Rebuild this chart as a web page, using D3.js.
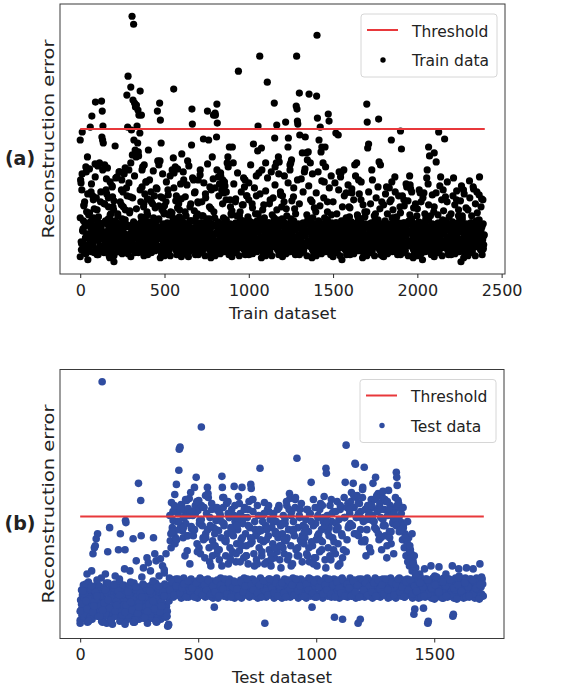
<!DOCTYPE html>
<html>
<head>
<meta charset="utf-8">
<script src="https://cdn.jsdelivr.net/npm/d3@7"></script>
<style>
  body { margin: 0; background: #fff; }
  svg text { font-family: "DejaVu Sans", sans-serif; fill: #222; }
</style>
</head>
<body>
<div id="main"></div>
<script>
// ---- values ----
// the y axis carries no tick labels, so errors are in relative units
// each inner array holds the points of one block of consecutive samples
const TRAIN_BLOCK = 100;
const TEST_BLOCK = 95;
const trainTicks = [0, 500, 1000, 1500, 2000, 2500];
const testTicks = [0, 500, 1000, 1500];
const trainThreshold = 133;
const testThreshold = 109;

const trainErr = [
  [122, 82, 79, 12, 72, 130, 31, 19, 41, 56, 15, 60, 36, 24, 8, 90, 50, 28, 105, 2, 17, 47, 38, 93, 22, 135, 34, 70, 10, 146, 27, 66, 18, 44, 36, 53, 25, 98, 160, 13, 64, 31],
  [12, 33, 96, 7, 45, 22, 39, 99, 16, 28, 60, 14, 35, 161, 125, 151, 122, 136, 119, 23, 9, 58, 97, 30, 19, 40, 72, 11, 68, 26, 94, 37, 16, 55, 31, 6, 21, 43, 80, 29, 48, 20, 41, 14, 75, 65, 34, 25, 52],
  [0, 29, 20, 116, 41, 15, 36, 25, 85, 10, 46, 27, 18, 90, 38, 13, 60, 32, 23, 57, 82, 8, 31, 70, 21, 39, 88, 16, 35, 52, 26, 12, 74, 167, 37, 135, 186, 22, 92, 17, 49, 28, 65],
  [175, 12, 132, 32, 246, 107, 22, 162, 38, 238, 122, 17, 159, 27, 112, 155, 14, 105, 157, 34, 136, 24, 119, 152, 9, 106, 147, 29, 19, 129, 171, 39, 60, 11, 147, 26, 75, 36, 95, 16, 31, 55, 6, 97, 21, 68, 30, 45, 20, 40, 80, 15, 50, 63],
  [11, 31, 112, 19, 40, 15, 62, 36, 24, 70, 9, 28, 18, 58, 39, 13, 44, 33, 66, 23, 11, 30, 21, 74, 41, 16, 151, 101, 35, 26, 56, 12, 159, 101, 142, 32, 119, 7, 52, 22, 64, 38, 17, 27, 48],
  [14, 34, 24, 9, 60, 29, 19, 39, 11, 72, 26, 47, 36, 16, 31, 6, 50, 21, 30, 20, 92, 40, 15, 104, 173, 89, 35, 25, 95, 12, 32, 66, 7, 22, 54, 38, 17, 58, 27, 45, 14, 34, 78, 43],
  [11, 108, 29, 21, 40, 14, 82, 36, 25, 8, 65, 28, 46, 18, 38, 13, 101, 33, 5, 23, 10, 31, 55, 19, 41, 15, 117, 153, 138, 34, 26, 82, 12, 51, 32, 70, 7, 22, 39, 17, 27, 48, 60],
  [82, 14, 34, 24, 9, 92, 29, 19, 39, 60, 11, 26, 46, 123, 36, 16, 31, 6, 68, 21, 30, 20, 40, 151, 15, 35, 122, 25, 12, 75, 32, 7, 53, 22, 38, 105, 17, 27, 147, 50, 14, 44],
  [149, 147, 11, 29, 125, 158, 139, 21, 40, 85, 14, 36, 78, 25, 8, 89, 28, 18, 72, 38, 13, 82, 33, 23, 69, 10, 31, 76, 20, 41, 62, 15, 35, 99, 24, 105, 12, 32, 7, 115, 22, 38, 55, 17, 27, 47],
  [14, 115, 34, 99, 24, 9, 29, 19, 60, 39, 11, 46, 26, 36, 16, 191, 31, 6, 21, 50, 30, 20, 40, 15, 57, 35, 25, 84, 12, 75, 32, 7, 22, 38, 66, 17, 27, 45, 42],
  [79, 11, 31, 19, 40, 16, 35, 24, 58, 8, 28, 118, 18, 39, 13, 33, 48, 23, 66, 10, 30, 111, 136, 21, 89, 41, 206, 15, 36, 25, 114, 12, 32, 52, 7, 22, 38, 44, 17, 27],
  [99, 14, 34, 24, 180, 9, 29, 19, 39, 11, 26, 62, 36, 16, 31, 6, 47, 21, 30, 20, 40, 159, 124, 95, 15, 35, 99, 137, 25, 12, 32, 105, 7, 100, 22, 38, 70, 17, 27, 55, 43],
  [11, 29, 21, 40, 60, 15, 35, 25, 140, 8, 28, 46, 18, 38, 115, 124, 13, 33, 23, 97, 10, 99, 31, 102, 20, 41, 15, 35, 65, 24, 12, 53, 32, 7, 22, 156, 206, 153, 141, 138, 38, 17, 27],
  [169, 127, 14, 34, 24, 9, 29, 109, 19, 39, 11, 26, 90, 36, 125, 16, 109, 31, 6, 102, 21, 110, 30, 168, 20, 40, 99, 15, 35, 25, 60, 12, 44, 32, 7, 22, 38, 17, 27, 50],
  [11, 166, 227, 144, 30, 19, 41, 122, 15, 36, 135, 24, 110, 8, 115, 28, 18, 99, 38, 13, 80, 33, 115, 23, 10, 31, 21, 40, 60, 14, 148, 35, 141, 26, 12, 32, 7, 22, 47, 39, 17, 27],
  [14, 34, 24, 9, 29, 19, 129, 39, 11, 26, 36, 127, 16, 90, 31, 6, 21, 89, 30, 2, 20, 40, 15, 92, 35, 25, 12, 32, 69, 7, 22, 38, 17, 27, 55, 45],
  [10, 31, 20, 40, 69, 16, 35, 24, 8, 28, 97, 18, 38, 13, 99, 33, 46, 23, 82, 11, 29, 21, 41, 62, 15, 36, 25, 12, 32, 7, 22, 50, 38, 17, 27],
  [158, 140, 114, 14, 118, 34, 24, 9, 29, 19, 39, 92, 11, 26, 36, 16, 31, 6, 21, 48, 30, 20, 40, 15, 35, 25, 143, 100, 12, 32, 97, 7, 22, 38, 6, 17, 27],
  [11, 30, 19, 41, 15, 35, 75, 26, 8, 28, 18, 38, 13, 60, 33, 23, 122, 80, 10, 31, 21, 40, 44, 14, 70, 36, 25, 12, 32, 7, 22, 39, 17, 27, 55],
  [131, 14, 113, 34, 24, 9, 29, 62, 19, 39, 11, 26, 36, 75, 16, 31, 6, 21, 30, 86, 77, 73, 20, 40, 15, 35, 25, 12, 32, 7, 22, 38, 17, 27, 46],
  [11, 29, 21, 40, 15, 36, 69, 24, 8, 28, 18, 2, 39, 13, 69, 33, 23, 10, 31, 20, 41, 92, 14, 78, 115, 35, 106, 26, 12, 32, 7, 22, 38, 17, 27, 50],
  [109, 14, 34, 24, 100, 9, 29, 19, 39, 130, 11, 26, 36, 85, 16, 31, 6, 21, 72, 30, 20, 123, 40, 15, 35, 25, 60, 12, 32, 7, 22, 38, 17, 27],
  [11, 30, 19, 40, 16, 84, 35, 24, 8, 28, 18, 62, 38, 13, 33, 46, 23, 10, 31, 21, 0, 76, 41, 15, 36, 72, 25, 12, 32, 7, 22, 38, 17, 27],
  [14, 34, 24, 81, 9, 29, 19, 39, 11, 26, 75, 36, 16, 31, 6, 21, 30, 70, 20, 40, 15, 35, 85, 25, 12, 32, 63, 7, 22, 38, 17, 27]
];

// second pass over the same blocks: the cloud just above the band
const trainErrMore = [
  [44, 20, 88, 33, 57, 11, 95, 26, 68, 39, 49, 16, 78, 30, 62, 9, 85, 42],
  [52, 24, 98, 36, 70, 13, 92, 29, 58, 41, 83, 19, 64, 33, 47, 10, 76, 55],
  [61, 22, 84, 37, 48, 14, 90, 31, 72, 43, 55, 18, 94, 27, 66, 8, 79, 51],
  [99, 28, 64, 40, 86, 15, 53, 34, 110, 20, 72, 45, 92, 12, 58, 37, 80, 25],
  [47, 19, 82, 35, 60, 12, 91, 28, 54, 42, 73, 16, 97, 31, 65, 9, 88, 50],
  [56, 23, 80, 38, 67, 14, 86, 30, 49, 44, 74, 17, 61, 33, 93, 10, 52, 27],
  [63, 21, 90, 36, 50, 13, 77, 29, 96, 41, 58, 18, 84, 32, 69, 11, 45, 25],
  [59, 24, 87, 39, 46, 15, 79, 31, 64, 43, 98, 17, 55, 34, 72, 8, 83, 27],
  [74, 20, 92, 37, 66, 12, 86, 30, 58, 44, 80, 16, 70, 33, 95, 10, 62, 48],
  [51, 22, 78, 38, 63, 14, 89, 28, 46, 42, 70, 18, 57, 32, 82, 9, 66, 26],
  [62, 23, 97, 36, 54, 13, 74, 30, 86, 41, 48, 17, 68, 34, 92, 11, 57, 27],
  [71, 21, 84, 39, 58, 15, 90, 29, 64, 44, 77, 18, 52, 33, 88, 10, 67, 25],
  [66, 24, 86, 37, 53, 12, 79, 31, 92, 43, 61, 16, 74, 34, 48, 9, 82, 26],
  [58, 20, 83, 38, 70, 14, 93, 29, 47, 42, 76, 17, 62, 32, 88, 11, 54, 27],
  [69, 22, 90, 36, 56, 13, 81, 30, 64, 44, 95, 18, 50, 33, 74, 10, 86, 25],
  [60, 23, 79, 39, 48, 15, 72, 28, 85, 41, 55, 16, 66, 34, 44, 9, 77, 26],
  [54, 21, 73, 37, 62, 12, 86, 31, 47, 43, 68, 17, 80, 32, 57, 10, 45, 27],
  [50, 24, 70, 38, 58, 14, 82, 29, 46, 42, 64, 18, 75, 33, 53, 11, 60, 26],
  [57, 20, 68, 36, 48, 13, 74, 30, 62, 44, 52, 16, 85, 34, 45, 9, 66, 25],
  [49, 22, 66, 39, 56, 15, 78, 28, 61, 41, 47, 17, 70, 32, 54, 10, 58, 27],
  [53, 23, 72, 37, 60, 12, 64, 31, 48, 43, 84, 16, 57, 33, 46, 11, 67, 26],
  [55, 21, 69, 38, 47, 14, 76, 29, 62, 42, 51, 18, 65, 34, 80, 9, 45, 25],
  [48, 24, 66, 36, 57, 13, 71, 30, 52, 44, 61, 17, 46, 32, 68, 10, 54, 27],
  [52, 20, 64, 39, 46, 15, 73, 28, 58, 41, 49, 16, 67, 33, 55, 11, 62, 26]
];

// third pass: fills the solid black band
const trainErrBand = [
  [5, 18, 31, 9, 24, 37, 14, 28, 41, 20, 33, 12],
  [7, 21, 34, 11, 26, 39, 16, 30, 43, 4, 23, 36],
  [6, 19, 32, 10, 25, 38, 15, 29, 42, 22, 35, 13],
  [5, 18, 31, 9, 24, 37, 14, 28, 41, 20, 33, 12],
  [7, 21, 34, 11, 26, 39, 16, 30, 43, 4, 23, 36],
  [6, 19, 32, 10, 25, 38, 15, 29, 42, 22, 35, 13],
  [5, 18, 31, 9, 24, 37, 14, 28, 41, 20, 33, 12],
  [7, 21, 34, 11, 26, 39, 16, 30, 43, 4, 23, 36],
  [6, 19, 32, 10, 25, 38, 15, 29, 42, 22, 35, 13],
  [5, 18, 31, 9, 24, 37, 14, 28, 41, 20, 33, 12],
  [7, 21, 34, 11, 26, 39, 16, 30, 43, 4, 23, 36],
  [6, 19, 32, 10, 25, 38, 15, 29, 42, 22, 35, 13],
  [5, 18, 31, 9, 24, 37, 14, 28, 41, 20, 33, 12],
  [7, 21, 34, 11, 26, 39, 16, 30, 43, 4, 23, 36],
  [6, 19, 32, 10, 25, 38, 15, 29, 42, 22, 35, 13],
  [5, 18, 31, 9, 24, 37, 14, 28, 41, 20, 33, 12],
  [7, 21, 34, 11, 26, 39, 16, 30, 43, 4, 23, 36],
  [6, 19, 32, 10, 25, 38, 15, 29, 42, 22, 35, 13],
  [5, 18, 31, 9, 24, 37, 14, 28, 41, 20, 33, 12],
  [7, 21, 34, 11, 26, 39, 16, 30, 43, 4, 23, 36],
  [6, 19, 32, 10, 25, 38, 15, 29, 42, 22, 35, 13],
  [5, 18, 31, 9, 24, 37, 14, 28, 41, 20, 33, 12],
  [7, 21, 34, 11, 26, 39, 16, 30, 43, 4, 23, 36],
  [6, 19, 32, 10, 25, 38, 15, 29, 42, 22, 35, 13]
];

const testErr = [
  [6, 26, 16, 36, 11, 31, 21, 41, 8, 28, 18, 38, 13, 33, 23, 52, 4, 24, 44, 14, 34, 9, 29, 19, 39, 55, 7, 27, 72, 17, 37, 78, 12, 80, 32, 87, 22, 42, 92, 10, 30, 20, 40, 15, 35, 25, 48, 5, 243],
  [8, 28, 18, 38, 13, 33, 52, 23, 43, 3, 24, 74, 14, 34, 9, 98, 29, 19, 39, 7, 27, 17, 37, 12, 32, 22, 42, 50, 10, 30, 20, 40, 15, 35, 76, 25, 45, 5, 92, 26, 16, 36, 11, 31, 21, 41, 6, 57],
  [76, 105, 103, 6, 26, 16, 36, 11, 31, 21, 41, 55, 8, 28, 18, 38, 13, 33, 87, 23, 43, 4, 24, 14, 34, 65, 9, 29, 19, 39, 142, 7, 27, 17, 37, 125, 90, 12, 32, 22, 42, 58, 10, 30, 20, 40, 15, 35, 25, 68],
  [6, 26, 63, 16, 36, 11, 31, 55, 21, 41, 8, 28, 18, 38, 88, 13, 33, 72, 23, 43, 65, 4, 24, 14, 34, 9, 29, 50, 19, 39, 67, 7, 27, 17, 37, 60, 12, 32, 22, 56, 42, 10, 30, 72, 20, 40, 15, 0, 35, 2, 25, 48],
  [30, 85, 41, 78, 123, 34, 98, 46, 105, 29, 93, 38, 131, 33, 88, 47, 141, 43, 118, 31, 112, 40, 155, 176, 36, 178, 45, 100, 28, 120, 39, 95, 32, 108, 48, 115, 42, 70, 30, 102, 41, 125, 35, 90, 44, 117, 29, 110, 38, 62, 33, 133, 47, 97, 43],
  [33, 110, 44, 95, 30, 138, 40, 120, 36, 148, 45, 82, 28, 115, 38, 125, 32, 105, 48, 72, 42, 198, 31, 100, 41, 88, 35, 118, 46, 68, 29, 92, 39, 112, 34, 138, 47, 128, 43, 78, 30, 108, 40, 60, 36, 122, 45, 85, 28, 98, 38, 19],
  [31, 80, 40, 105, 35, 72, 46, 115, 28, 95, 39, 66, 33, 110, 48, 88, 42, 149, 138, 128, 118, 30, 100, 41, 85, 36, 70, 44, 122, 29, 92, 38, 62, 32, 108, 47, 78, 43, 98, 30, 116, 40, 74, 34, 90, 45, 139, 28, 104, 37, 64, 33, 82],
  [43, 96, 30, 129, 41, 75, 35, 112, 46, 86, 28, 138, 38, 102, 33, 68, 48, 118, 42, 92, 31, 80, 40, 108, 36, 62, 45, 124, 29, 98, 39, 141, 137, 34, 84, 47, 114, 43, 72, 30, 104, 41, 90, 35, 66, 44, 120, 28, 94, 38, 78],
  [33, 157, 48, 95, 42, 70, 30, 110, 40, 84, 36, 123, 3, 45, 100, 29, 64, 38, 116, 32, 90, 47, 76, 43, 106, 31, 60, 41, 98, 35, 82, 46, 112, 28, 68, 39, 94, 34, 104, 48, 74, 42, 88, 30, 118, 40, 66, 36, 100, 44, 80],
  [28, 92, 38, 110, 33, 72, 47, 102, 43, 85, 30, 120, 41, 66, 35, 96, 45, 132, 127, 29, 80, 39, 114, 32, 62, 48, 104, 42, 90, 31, 118, 40, 76, 36, 167, 44, 98, 28, 70, 38, 108, 34, 86, 47, 122, 43, 64, 30, 100, 41, 82],
  [35, 88, 45, 106, 28, 72, 38, 116, 33, 94, 48, 64, 42, 112, 30, 143, 40, 19, 80, 36, 100, 46, 68, 29, 118, 39, 86, 32, 60, 47, 108, 43, 92, 31, 74, 41, 122, 35, 96, 44, 84, 28, 104, 38, 129, 34, 66, 48, 157, 152],
  [43, 110, 30, 78, 40, 98, 36, 120, 45, 66, 29, 104, 38, 88, 33, 114, 47, 9, 42, 72, 31, 96, 41, 124, 35, 82, 46, 106, 28, 62, 39, 118, 32, 92, 48, 7, 43, 76, 30, 108, 40, 143, 36, 180, 44, 86, 29, 122, 38, 100],
  [33, 112, 48, 124, 42, 133, 30, 100, 41, 142, 35, 118, 46, 162, 161, 28, 108, 39, 130, 32, 3, 90, 47, 122, 43, 7, 114, 31, 84, 40, 128, 36, 104, 45, 158, 29, 116, 38, 70, 34, 96, 48, 120, 42, 110, 30, 78, 41, 106, 35, 126],
  [45, 118, 28, 142, 38, 104, 33, 126, 48, 148, 43, 96, 30, 114, 40, 132, 35, 86, 46, 122, 29, 108, 39, 76, 32, 128, 47, 100, 42, 116, 31, 90, 41, 124, 36, 68, 44, 110, 28, 135, 38, 94, 34, 120, 48, 82, 43, 112, 30, 102, 40, 72],
  [35, 116, 45, 128, 28, 153, 148, 140, 38, 125, 33, 108, 48, 118, 43, 96, 30, 103, 40, 86, 36, 98, 46, 78, 29, 92, 39, 70, 32, 84, 47, 64, 42, 88, 31, 60, 41, 76, 35, 72, 44, 55, 28, 65, 38, 12, 33, 17, 48, 58, 43],
  [30, 41, 35, 46, 28, 38, 52, 33, 48, 43, 31, 40, 36, 18, 45, 57, 29, 39, 32, 47, 42, 3, 5, 30, 41, 34, 44, 60, 28, 38, 33, 48, 43, 31, 50, 40, 36, 45, 29, 39, 32, 47],
  [59, 43, 30, 40, 35, 46, 28, 38, 33, 48, 42, 31, 41, 52, 36, 45, 29, 39, 32, 47, 43, 30, 40, 34, 44, 60, 10, 12, 28, 38, 33, 48, 42, 31, 41, 35, 46, 57, 29, 39, 32, 47],
  [30, 41, 35, 45, 28, 38, 33, 48, 43, 58, 31, 40, 36, 46, 29, 39, 32, 47, 42, 30, 41, 57, 34, 44, 28, 38, 33, 48, 43, 31, 40, 36, 45, 62, 29, 39, 32, 47, 42, 30]
];

// second pass over the same test blocks
const testErrMore = [
  [3, 22, 12, 32, 42, 17, 27, 7, 37, 14, 24, 34, 46, 10, 30, 20],
  [4, 23, 13, 33, 43, 18, 28, 2, 38, 15, 25, 35, 47, 9, 31, 21],
  [2, 21, 11, 31, 44, 16, 26, 6, 36, 13, 23, 33, 49, 8, 29, 19],
  [3, 22, 12, 32, 45, 17, 27, 5, 37, 14, 24, 34, 53, 9, 30, 1],
  [36, 92, 44, 114, 31, 82, 40, 104, 47, 96, 33, 121, 38, 88, 42, 109, 29, 75, 45, 127, 35, 99],
  [38, 90, 29, 112, 43, 74, 34, 102, 47, 120, 31, 86, 41, 130, 36, 96, 45, 64, 32, 116, 40, 80],
  [34, 96, 45, 76, 30, 112, 41, 60, 37, 102, 47, 86, 32, 124, 43, 68, 29, 94, 39, 110, 44, 72],
  [37, 106, 30, 64, 44, 88, 34, 116, 40, 70, 47, 100, 31, 82, 42, 126, 36, 60, 45, 92, 33, 110],
  [41, 86, 29, 104, 45, 62, 35, 96, 31, 114, 47, 72, 38, 108, 33, 78, 43, 92, 30, 120, 40, 58],
  [43, 78, 33, 106, 29, 88, 46, 116, 37, 60, 41, 96, 31, 126, 47, 70, 35, 110, 40, 84, 30, 100],
  [30, 98, 42, 70, 36, 112, 47, 84, 33, 62, 44, 102, 29, 90, 39, 116, 45, 76, 32, 108, 41, 58],
  [36, 94, 47, 70, 32, 112, 41, 84, 29, 102, 44, 60, 38, 116, 33, 90, 46, 128, 30, 74, 42, 98],
  [38, 102, 30, 118, 45, 92, 34, 128, 41, 112, 29, 96, 47, 136, 36, 84, 43, 106, 31, 120, 40, 74],
  [34, 110, 43, 98, 30, 130, 46, 118, 37, 88, 41, 106, 32, 126, 47, 80, 36, 116, 29, 94, 44, 104],
  [31, 106, 42, 120, 47, 94, 34, 112, 39, 100, 29, 90, 44, 82, 36, 74, 46, 68, 32, 62, 40, 52],
  [34, 44, 29, 39, 47, 32, 42, 37, 27, 49],
  [33, 44, 28, 40, 47, 31, 42, 36, 27, 50],
  [34, 43, 29, 39, 47, 32, 44, 37, 27, 49]
];

// third pass: thickens the bands and the cloud near the threshold
const testErrBand = [
  [15, 35, 25, 5, 40, 20, 30, 10],
  [16, 36, 26, 6, 41, 21, 31, 11],
  [14, 34, 24, 4, 39, 19, 29, 9],
  [15, 35, 25, 5, 40, 20, 30, 10],
  [110, 94, 120, 86, 104, 116, 98, 126, 90, 112],
  [114, 96, 124, 78, 106, 118, 88, 132, 100, 70],
  [92, 118, 76, 104, 128, 84, 112, 66, 98, 120],
  [100, 122, 80, 108, 70, 116, 88, 126, 96, 62],
  [96, 74, 112, 86, 120, 66, 104, 92, 116, 80],
  [102, 86, 124, 70, 110, 94, 128, 78, 116, 90],
  [94, 116, 78, 104, 126, 68, 110, 86, 120, 100],
  [104, 90, 126, 76, 114, 98, 120, 68, 108, 118],
  [116, 100, 130, 92, 122, 108, 138, 86, 118, 112],
  [120, 104, 128, 92, 116, 134, 100, 124, 88, 110],
  [112, 100, 122, 96, 118, 88, 104, 80, 92, 70],
  [35, 43, 30, 46, 38, 41],
  [34, 44, 30, 46, 38, 41],
  [35, 43, 30, 46, 38, 41]
];

const ctx = { w: 569, h: 690 };

// sample index of every point: blocks are consecutive runs of the dataset
function toPoints(blocks, size) {
    let pts = [];
    blocks.forEach((blk, b) => {
        blk.forEach((v, k) => pts.push({ i: b * size + k * size / blk.length, err: v }));
    });
    return pts;
}

function drawPanel(root, p) {
    let pts = [];
    p.sets.forEach((s) => { pts = pts.concat(toPoints(s, p.blockSize)); });
    let n = p.sets[0].length * p.blockSize;
    // matplotlib-like 5% margins
    let xScale = d3.scaleLinear()
        .domain([-0.05 * n, n * 1.05])
        .range([p.left, p.right]);
    let ext = d3.extent(pts, (d) => d.err);
    let pad = 0.05 * (ext[1] - ext[0]);
    let yScale = d3.scaleLinear()
        .domain([ext[0] - pad, ext[1] + pad])
        .range([p.bottom, p.top]);

    let g = root.append("g");

    // scatter points
    g.append("g").selectAll("circle")
        .data(pts)
        .enter()
        .append("circle")
        .attr("cx", (d) => xScale(d.i))
        .attr("cy", (d) => yScale(d.err))
        .attr("r", p.r)
        .attr("fill", p.color);

    // threshold line drawn above the points
    g.append("line")
        .attr("x1", xScale(0))
        .attr("x2", xScale(n))
        .attr("y1", yScale(p.threshold))
        .attr("y2", yScale(p.threshold))
        .attr("stroke", "#e8383b")
        .attr("stroke-width", 2);

    // frame
    g.append("rect")
        .attr("x", p.left)
        .attr("y", p.top)
        .attr("width", p.right - p.left)
        .attr("height", p.bottom - p.top)
        .attr("fill", "none")
        .attr("stroke", "#3a3a3a")
        .attr("stroke-width", 1);

    // x axis
    let axG = g.append("g")
        .attr("transform", `translate(0,${p.bottom})`)
        .call(d3.axisBottom(xScale).tickValues(p.ticks).tickFormat(d3.format("d"))
            .tickSize(4).tickPadding(6.5).tickSizeOuter(0));
    axG.select(".domain").remove();
    axG.attr("font-family", "DejaVu Sans").attr("font-size", 16).attr("color", "#2a2a2a");

    // axis labels
    g.append("text")
        .attr("x", (p.left + p.right) / 2)
        .attr("y", p.bottom + 44.5)
        .attr("text-anchor", "middle")
        .attr("font-size", 16.5)
        .text(p.xLabel);
    g.append("text")
        .attr("transform", `translate(53.5,${(p.top + p.bottom) / 2}) rotate(-90) scale(1.18,1)`)
        .attr("text-anchor", "middle")
        .attr("font-size", 16.5)
        .text("Reconstruction error");

    // panel tag (a)/(b)
    g.append("text")
        .attr("x", 20)
        .attr("y", (p.top + p.bottom) / 2 + 26)
        .attr("text-anchor", "middle")
        .attr("font-family", "Lato, sans-serif")
        .attr("font-weight", "bold")
        .attr("font-size", 19)
        .attr("fill", "#111")
        .text(p.tag);

    // legend
    let lx = p.right - 144, ly = p.top + 10;
    let lg = g.append("g").attr("transform", `translate(${lx},${ly})`);
    lg.append("rect")
        .attr("width", 136)
        .attr("height", 63)
        .attr("rx", 3)
        .attr("fill", "#fff")
        .attr("fill-opacity", 0.85)
        .attr("stroke", "#d6d6d6");
    lg.append("line")
        .attr("x1", 6).attr("x2", 37)
        .attr("y1", 16).attr("y2", 16)
        .attr("stroke", "#e8383b")
        .attr("stroke-width", 2);
    lg.append("text").attr("x", 51).attr("y", 22.5).attr("font-size", 15.5).text("Threshold");
    lg.append("circle").attr("cx", 22).attr("cy", 46).attr("r", 2.7).attr("fill", p.color);
    lg.append("text").attr("x", 51).attr("y", 52).attr("font-size", 15.5).text(p.legend);
}

function createViz() {
    let svgEl = d3.select("#main").append("svg")
        .attr("width", ctx.w)
        .attr("height", ctx.h);
    let rootG = svgEl.append("g").attr("id", "rootG");
    drawPanel(rootG, {
        sets: [trainErr, trainErrMore, trainErrBand], blockSize: TRAIN_BLOCK, ticks: trainTicks, threshold: trainThreshold,
        left: 60, right: 505, top: 4, bottom: 274,
        color: "#000", r: 3.6, tag: "(a)", xLabel: "Train dataset", legend: "Train data"
    });
    drawPanel(rootG, {
        sets: [testErr, testErrMore, testErrBand], blockSize: TEST_BLOCK, ticks: testTicks, threshold: testThreshold,
        left: 60, right: 504, top: 369.5, bottom: 638.5,
        color: "#2f4ca0", r: 3.8, tag: "(b)", xLabel: "Test dataset", legend: "Test data"
    });
}

createViz();
</script>
</body>
</html>
